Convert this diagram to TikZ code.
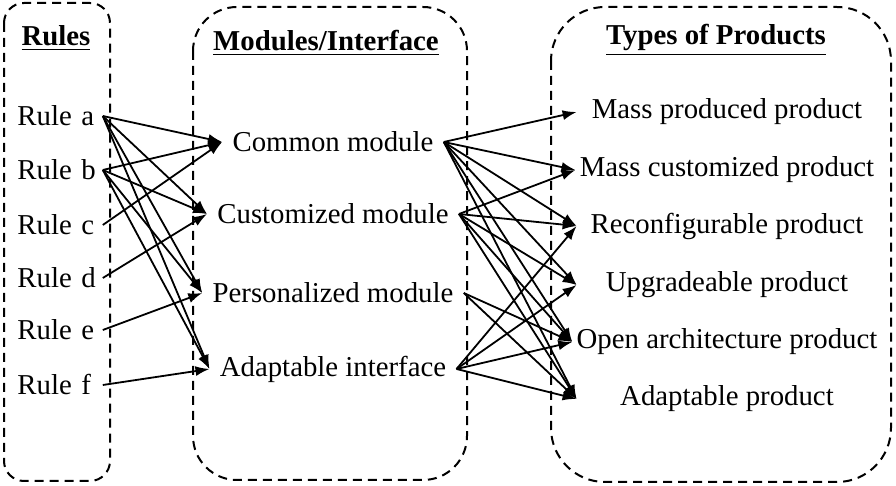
\documentclass[tikz,border=0pt]{standalone}
\usepackage{fontspec}
\setmainfont{Liberation Serif}
\usetikzlibrary{arrows.meta}

\begin{document}
\begin{tikzpicture}[x=0.5pt,y=-0.5pt,
  >={Latex[length=7pt,width=5pt]},
  box/.style={line width=1pt,dash pattern=on 4.5pt off 3pt},
  title/.style={font=\fontsize{14.4}{17}\selectfont\bfseries,anchor=base},
  rulenode/.style={font=\fontsize{14.4}{17}\selectfont,anchor=west,text width=40.5pt,align=left,inner sep=2pt},
  modnode/.style={font=\fontsize{14.4}{17}\selectfont,inner sep=5pt},
  prodnode/.style={font=\fontsize{14.4}{17}\selectfont,minimum width=150pt,inner sep=2pt},
  link/.style={->,line width=0.9pt}]
\useasboundingbox (0,0) rectangle (896,486);

\draw [box,rounded corners=10pt] (4,3) rectangle (110,481);
\draw [box,rounded corners=22pt] (193,7) rectangle (467,480);
\draw [box,rounded corners=27pt] (551,7) rectangle (891,482);

\node [title] (rules) at (56,46) {\underline{Rules}};
\node [title] (mods) at (326,51) {\underline{Modules/Interface}};
\node [title] (types) at (716,45) {\underline{Types of Products}};

\node [rulenode] (rule1) at (13,116) {Rule a};
\node [rulenode] (rule2) at (13,170) {Rule b};
\node [rulenode] (rule3) at (13,225) {Rule c};
\node [rulenode] (rule4) at (13,278) {Rule d};
\node [rulenode] (rule5) at (13,330) {Rule e};
\node [rulenode] (rule6) at (13,385) {Rule f};

\node [modnode] (mod1) at (333,142) {Common module};
\node [modnode] (mod2) at (333,214) {Customized module};
\node [modnode] (mod3) at (333,293) {Personalized module};
\node [modnode] (mod4) at (333,369) {Adaptable interface};

\node [prodnode] (prod1) at (727,112) {Mass produced product};
\node [prodnode] (prod2) at (727,170) {Mass customized product};
\node [prodnode] (prod3) at (727,226) {Reconfigurable product};
\node [prodnode] (prod4) at (727,285) {Upgradeable product};
\node [prodnode] (prod5) at (727,342) {Open architecture product};
\node [prodnode] (prod6) at (727,399) {Adaptable product};

\draw [link] (rule1.east) -- (mod1.west);
\draw [link] (rule1.east) -- (mod2.west);
\draw [link] (rule1.east) -- (mod3.west);
\draw [link] (rule1.east) -- (mod4.west);
\draw [link] (rule2.east) -- (mod1.west);
\draw [link] (rule2.east) -- (mod2.west);
\draw [link] (rule2.east) -- (mod3.west);
\draw [link] (rule2.east) -- (mod4.west);
\draw [link] (rule3.east) -- (mod1.west);
\draw [link] (rule4.east) -- (mod2.west);
\draw [link] (rule5.east) -- (mod3.west);
\draw [link] (rule6.east) -- (mod4.west);

\draw [link] (mod1.east) -- (prod1.west);
\draw [link] (mod1.east) -- (prod2.west);
\draw [link] (mod1.east) -- (prod3.west);
\draw [link] (mod1.east) -- (prod4.west);
\draw [link] (mod1.east) -- (prod5.west);
\draw [link] (mod1.east) -- (prod6.west);
\draw [link] (mod2.east) -- (prod2.west);
\draw [link] (mod2.east) -- (prod3.west);
\draw [link] (mod2.east) -- (prod4.west);
\draw [link] (mod2.east) -- (prod5.west);
\draw [link] (mod2.east) -- (prod6.west);
\draw [link] (mod3.east) -- (prod5.west);
\draw [link] (mod3.east) -- (prod6.west);
\draw [link] (mod4.east) -- (prod3.west);
\draw [link] (mod4.east) -- (prod4.west);
\draw [link] (mod4.east) -- (prod5.west);
\draw [link] (mod4.east) -- (prod6.west);
\end{tikzpicture}
\end{document}
